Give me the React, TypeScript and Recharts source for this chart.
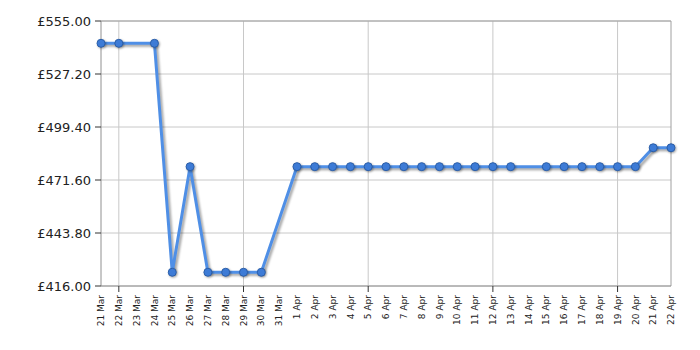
// Price history line chart (Mar–Apr)
import { LineChart, Line, XAxis, YAxis, CartesianGrid, ReferenceLine } from 'recharts';

const dates = [
  '21 Mar', '22 Mar', '23 Mar', '24 Mar', '25 Mar', '26 Mar', '27 Mar', '28 Mar', '29 Mar', '30 Mar', '31 Mar',
  '1 Apr', '2 Apr', '3 Apr', '4 Apr', '5 Apr', '6 Apr', '7 Apr', '8 Apr', '9 Apr', '10 Apr', '11 Apr',
  '12 Apr', '13 Apr', '14 Apr', '15 Apr', '16 Apr', '17 Apr', '18 Apr', '19 Apr', '20 Apr', '21 Apr', '22 Apr',
];

const prices: (number | null)[] = [
  543.3, 543.3, null, 543.3, 423.2, 478.6, 423.2, 423.2, 423.2, 423.2, null,
  478.6, 478.6, 478.6, 478.6, 478.6, 478.6, 478.6, 478.6, 478.6, 478.6, 478.6,
  478.6, 478.6, null, 478.6, 478.6, 478.6, 478.6, 478.6, 478.6, 488.5, 488.5,
];

const yTicks = [416, 443.8, 471.6, 499.4, 527.2, 555];
const weekLines = ['22 Mar', '29 Mar', '5 Apr', '12 Apr', '19 Apr'];

const FONT = '"DejaVu Sans", Verdana, sans-serif';

// 세로 날짜 라벨 + 주 단위 눈금
function DateTick({ x, y, payload }: { x?: number; y?: number; payload?: { value: string } }) {
  const label = payload?.value ?? '';
  const major = weekLines.includes(label);
  return (
    <g transform={`translate(${x},${y})`}>
      {major && <line x1={0} y1={0} x2={0} y2={6} stroke="#333" />}
      <text
        transform="rotate(-90)"
        x={-9}
        y={0}
        dy="0.35em"
        textAnchor="end"
        fontSize={9}
        fontFamily={FONT}
        fill="#222"
      >
        {label}
      </text>
    </g>
  );
}

export default function App() {
  const data = dates.map((d, i) => ({ date: d, price: prices[i] }));

  return (
    <div style={{ position: 'absolute', left: 0, top: 0, background: '#fff' }}>
      <style>{`.recharts-line-curve { filter: drop-shadow(2px 2px 1px rgba(0,0,0,0.35)); }
.recharts-line-dots { filter: drop-shadow(1px 1px 1px rgba(0,0,0,0.35)); }`}</style>
      <LineChart width={700} height={350} data={data} margin={{ top: 21, right: 29, bottom: 0, left: 0 }}>
        <CartesianGrid vertical={false} stroke="#c8c8c8" />
        {weekLines.map((w) => (
          <ReferenceLine key={w} x={w} stroke="#c8c8c8" />
        ))}
        <ReferenceLine x="22 Apr" stroke="#a0a0a0" />
        <ReferenceLine y={555} stroke="#a0a0a0" />
        <XAxis
          dataKey="date"
          interval={0}
          height={64}
          tickSize={0}
          tickMargin={0}
          tickLine={false}
          axisLine={{ stroke: '#909090' }}
          tick={<DateTick />}
        />
        <YAxis
          domain={[416, 555]}
          ticks={yTicks}
          width={101}
          tickSize={6}
          tickMargin={4}
          tickLine={{ stroke: '#333' }}
          axisLine={{ stroke: '#909090' }}
          tick={{ fontSize: 13, fontFamily: FONT, fill: '#222' }}
          tickFormatter={(v: number) => `£${v.toFixed(2)}`}
        />
        <Line
          type="linear"
          dataKey="price"
          stroke="#4f8fe6"
          strokeWidth={3}
          connectNulls
          dot={{ r: 4, fill: '#3d7bd6', stroke: '#2b5ea8', strokeWidth: 1 }}
          isAnimationActive={false}
        />
      </LineChart>
    </div>
  );
}
